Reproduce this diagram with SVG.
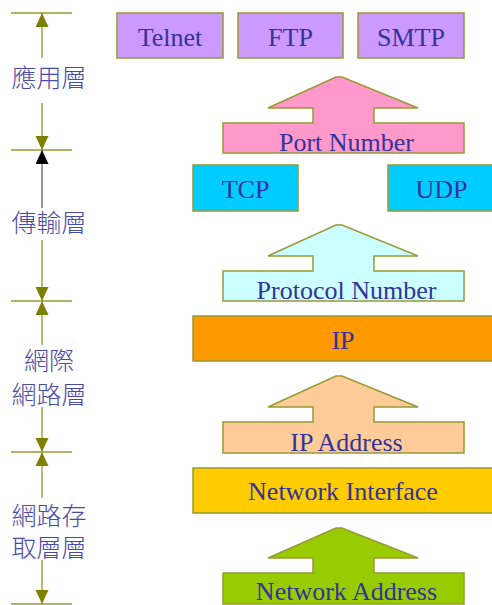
<svg xmlns="http://www.w3.org/2000/svg" width="492" height="605" viewBox="0 0 492 605">
<style>
.box{stroke:#999933;stroke-width:1.5}
.bt{font-family:"Liberation Serif","Times New Roman",serif;font-size:26px;fill:#333399;text-anchor:middle}
.lt{font-family:"Noto Sans CJK TC","Noto Sans CJK SC",sans-serif;font-size:25px;font-weight:300;fill:#4a4aaa;text-anchor:middle}
.tick{stroke:#999933;stroke-width:1.5}
.dim{stroke:#a3a34a;stroke-width:1.5;fill:none}
.dimk{stroke:#777777;stroke-width:1.5;fill:none}
</style>
<defs>
<marker id="ao" markerUnits="userSpaceOnUse" markerWidth="14" markerHeight="14" refX="14" refY="6.5" orient="auto">
<path d="M0,0 L14,6.5 L0,13 Z" fill="#808000"/>
</marker>
<marker id="ak" markerUnits="userSpaceOnUse" markerWidth="14" markerHeight="14" refX="14" refY="6.5" orient="auto">
<path d="M0,0 L14,6.5 L0,13 Z" fill="#000000"/>
</marker>
</defs>
<rect width="492" height="605" fill="#ffffff"/>

<g id="connectors">
<line class="tick" x1="11" y1="13" x2="72" y2="13"/>
<line class="tick" x1="11" y1="150" x2="72" y2="150"/>
<line class="tick" x1="11" y1="301" x2="72" y2="301"/>
<line class="tick" x1="11" y1="452" x2="72" y2="452"/>
<line class="tick" x1="11" y1="604" x2="72" y2="604"/>
<line class="dim" x1="42" y1="58" x2="42" y2="13" marker-end="url(#ao)"/>
<line class="dim" x1="42" y1="103" x2="42" y2="150" marker-end="url(#ao)"/>
<line class="dimk" x1="42" y1="208" x2="42" y2="150" marker-end="url(#ak)"/>
<line class="dim" x1="42" y1="240" x2="42" y2="301" marker-end="url(#ao)"/>
<line class="dim" x1="42" y1="345" x2="42" y2="301" marker-end="url(#ao)"/>
<line class="dim" x1="42" y1="407" x2="42" y2="452" marker-end="url(#ao)"/>
<line class="dim" x1="42" y1="498" x2="42" y2="452" marker-end="url(#ao)"/>
<line class="dim" x1="42" y1="560" x2="42" y2="604" marker-end="url(#ao)"/>
</g>

<g id="label-app"><text class="lt" x="49" y="87">應用層</text></g>
<g id="label-transport"><text class="lt" x="49" y="231.5">傳輸層</text></g>
<g id="label-internet"><text class="lt" x="49" y="370">網際</text><text class="lt" x="49" y="404">網路層</text></g>
<g id="label-link"><text class="lt" x="49" y="525">網路存</text><text class="lt" x="49" y="557">取層層</text></g>

<g id="telnet"><rect class="box" x="117" y="13" width="106" height="45" fill="#cc99ff"/><text class="bt" x="170" y="46">Telnet</text></g>
<g id="ftp"><rect class="box" x="238" y="13" width="105" height="45" fill="#cc99ff"/><text class="bt" x="290.5" y="46">FTP</text></g>
<g id="smtp"><rect class="box" x="358" y="13" width="106" height="45" fill="#cc99ff"/><text class="bt" x="411" y="46">SMTP</text></g>

<g id="port-number"><path class="box" d="M223,123 H313 V108 H268 L336,77 H342 L418,108 H374 V123 H464 V153 H223 Z" fill="#ff99cc"/><text class="bt" x="346.5" y="151">Port Number</text></g>

<g id="tcp"><rect class="box" x="193" y="165" width="105" height="46" fill="#00ccff"/><text class="bt" x="245.5" y="198">TCP</text></g>
<g id="udp"><rect class="box" x="388" y="165" width="106" height="46" fill="#00ccff"/><text class="bt" x="441.5" y="198">UDP</text></g>

<g id="protocol-number"><path class="box" d="M223,271 H313 V256 H268 L336,225 H342 L418,256 H374 V271 H464 V301 H223 Z" fill="#ccffff"/><text class="bt" x="346.5" y="299">Protocol Number</text></g>

<g id="ip"><rect class="box" x="193" y="316" width="301" height="45" fill="#ff9900"/><text class="bt" x="343" y="349">IP</text></g>

<g id="ip-address"><path class="box" d="M223,422 H313 V407 H268 L336,376 H342 L418,407 H374 V422 H464 V453 H223 Z" fill="#ffcc99"/><text class="bt" x="346.5" y="451">IP Address</text></g>

<g id="network-interface"><rect class="box" x="193" y="468" width="301" height="45" fill="#ffcc00"/><text class="bt" x="343" y="500">Network Interface</text></g>

<g id="network-address"><path class="box" d="M223,573 H313 V558 H268 L336,528 H342 L418,558 H374 V573 H464 V604 H223 Z" fill="#99cc00"/><text class="bt" x="346.5" y="600">Network Address</text></g>
</svg>
